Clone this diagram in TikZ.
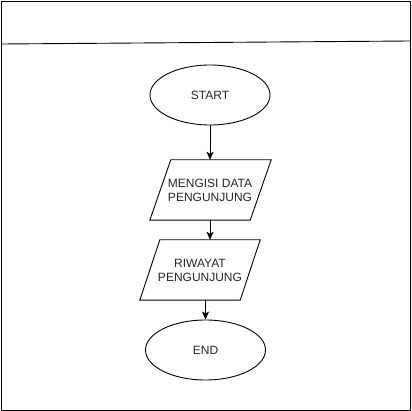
\documentclass[tikz,border=0pt]{standalone}
\usepackage{fontspec}
\setmainfont{Liberation Sans}
\usetikzlibrary{shapes.geometric,arrows.meta}
\begin{document}
\begin{tikzpicture}[x=1pt,y=-1pt,
  every node/.style={font=\fontsize{12}{14}\selectfont, text=black!85},
  term/.style={ellipse, draw, line width=0.9pt, minimum width=120, minimum height=60, inner sep=0pt},
  iobox/.style={minimum width=100, minimum height=60, inner sep=0pt, align=center},
  para/.style={draw, line width=0.9pt},
  flow/.style={draw, line width=0.9pt, -{Stealth[length=8,width=7,inset=2]}}]
\useasboundingbox (0,0) rectangle (412,411);
\draw[line width=0.9pt] (1,1) rectangle (410.5,410);
\coordinate (la) at (2,44);
\coordinate (lb) at (410.5,41);
\draw[line width=0.9pt] (la) -- (lb);
\node[term] (start) at (210,95) {START};
\node[iobox] (p1) at (210,190) {MENGISI DATA\\PENGUNJUNG};
\draw[para] ([xshift=11]p1.north west) -- ([xshift=11]p1.north east) -- ([xshift=-10]p1.south east) -- ([xshift=-10]p1.south west) -- cycle;
\node[iobox] (p2) at (200,270) {RIWAYAT\\PENGUNJUNG};
\draw[para] ([xshift=10]p2.north west) -- ([xshift=10]p2.north east) -- ([xshift=-10]p2.south east) -- ([xshift=-10]p2.south west) -- cycle;
\node[term] (end) at (205.5,350) {END};
\draw[flow] (start.south) -- (start.south |- p1.north);
\draw[flow] (p1.south) -- (p1.south |- p2.north);
\draw[flow] (p2.south -| end.north) -- (end.north);
\end{tikzpicture}
\end{document}
